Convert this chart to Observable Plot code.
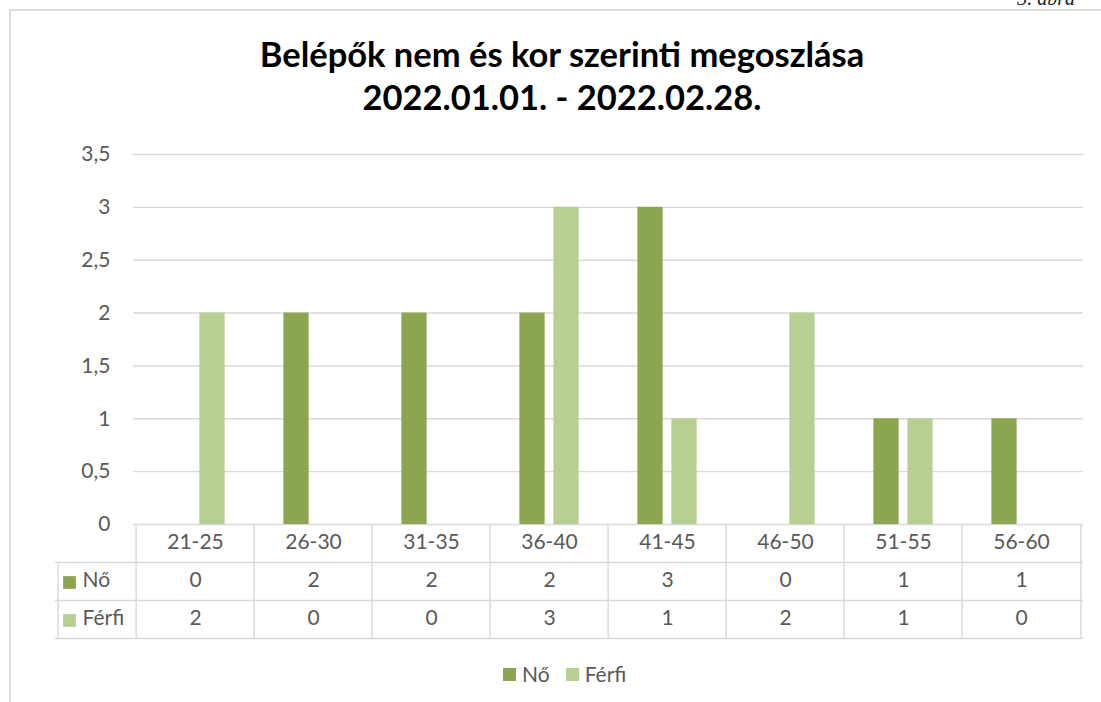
<!DOCTYPE html>
<html>
<head>
<meta charset="utf-8">
<script src="https://cdn.jsdelivr.net/npm/d3@7"></script>
<script src="https://cdn.jsdelivr.net/npm/@observablehq/plot@0.6"></script>
<style>
  html, body { margin: 0; padding: 0; background: #fff; }
  #wrap { position: relative; width: 1101px; height: 702px; overflow: hidden; font-family: Lato, "Open Sans", sans-serif; }
  #frame { position: absolute; left: 9px; top: 9px; right: -5px; bottom: -5px; border-left: 2px solid #dcdcdc; border-top: 2px solid #dcdcdc; }
  #corner { position: absolute; right: 26px; top: -12px; font: italic 20px "Liberation Serif", serif; color: #222; line-height: 20px; }
  #title { position: absolute; left: 0; top: 32px; width: 1124px; text-align: center; font-weight: 700; font-size: 34.5px; line-height: 43px; color: #000; }
  #chart { position: absolute; left: 0; top: 130px; }
  #legend { position: absolute; left: 503px; top: 662px; font-size: 21px; color: #595959; display: flex; align-items: center; gap: 0; line-height: 24px; }
  #legend .sw { display: inline-block; width: 13px; height: 13px; margin-right: 6px; }
  #legend .item { display: flex; align-items: center; margin-right: 16px; }
</style>
</head>
<body>
<div id="wrap">
  <div id="frame"></div>
  <div id="corner">3. ábra</div>
  <div id="title">Belépők nem és kor szerinti megoszlása<br>2022.01.01. - 2022.02.28.</div>
  <div id="chart"></div>
  <div id="legend"></div>
</div>
<script>
// ---- data ----
const categories = ["21-25", "26-30", "31-35", "36-40", "41-45", "46-50", "51-55", "56-60"];
const seriesNames = ["Nő", "Férfi"];
const noValues = [0, 2, 2, 2, 3, 0, 1, 1];
const ferfiValues = [2, 0, 0, 3, 1, 2, 1, 0];
const yTickValues = [0, 0.5, 1, 1.5, 2, 2.5, 3, 3.5];
const seriesColors = ["#8BA64E", "#B8CF94"];

// ---- table built from the arrays ----
const rows = categories.flatMap((c, i) => [
  {cat: c, series: seriesNames[0], value: noValues[i]},
  {cat: c, series: seriesNames[1], value: ferfiValues[i]}
]);
const noRows = rows.filter(d => d.series === seriesNames[0]);
const ferfiRows = rows.filter(d => d.series === seriesNames[1]);

// ---- layout ----
const W = 1101, H = 572;
const mL = 133, mR = 18, mT = 24, mB = 178;
const bw = (W - mL - mR) / categories.length;
const barW = 26, gap = 8;
const outer = (bw - 2 * barW - gap) / 2;
const rowH = 38;            // table row height
const headW = 78;           // width of table's left header column
const tShift = 5;           // vertical text nudge inside table cells
const grid = "#d9d9d9";
const txt = "#595959";

const plot = Plot.plot({
  width: W,
  height: H,
  marginLeft: mL,
  marginRight: mR,
  marginTop: mT,
  marginBottom: mB,
  style: {fontFamily: "Lato, 'Open Sans', sans-serif", fontSize: "21px", color: txt, background: "transparent", overflow: "visible"},
  x: {domain: categories, padding: 0, axis: null},
  y: {
    domain: [0, 3.5],
    ticks: yTickValues,
    tickFormat: d => String(d).replace(".", ","),
    tickSize: 0,
    tickPadding: 23,
    label: null
  },
  marks: [
    // gridlines
    Plot.ruleY(yTickValues, {stroke: grid, strokeWidth: 1.4}),
    // bars
    Plot.barY(noRows, {x: "cat", y: "value", fill: seriesColors[0], insetLeft: outer, insetRight: bw - outer - barW}),
    Plot.barY(ferfiRows, {x: "cat", y: "value", fill: seriesColors[1], insetLeft: outer + barW + gap, insetRight: outer}),
    // data table: horizontal lines
    Plot.ruleY([0], {stroke: grid, strokeWidth: 1.4, dy: rowH, insetLeft: -headW}),
    Plot.ruleY([0], {stroke: grid, strokeWidth: 1.4, dy: 2 * rowH, insetLeft: -headW}),
    Plot.ruleY([0], {stroke: grid, strokeWidth: 1.4, dy: 3 * rowH, insetLeft: -headW}),
    // data table: vertical lines
    Plot.ruleX(categories, {x: d => d, y1: 0, y2: 0, insetBottom: -3 * rowH, dx: -bw / 2, stroke: grid, strokeWidth: 1.4}),
    Plot.ruleX([categories[categories.length - 1]], {x: d => d, y1: 0, y2: 0, insetBottom: -3 * rowH, dx: bw / 2, stroke: grid, strokeWidth: 1.4}),
    Plot.ruleX([categories[0]], {x: d => d, y1: 0, y2: 0, insetTop: rowH, insetBottom: -3 * rowH, dx: -bw / 2 - headW, stroke: grid, strokeWidth: 1.4}),
    // data table: category labels
    Plot.text(categories, {x: d => d, text: d => d, frameAnchor: "bottom", dy: rowH / 2 + tShift, fill: txt}),
    // data table: values
    Plot.text(noRows, {x: "cat", text: d => String(d.value), frameAnchor: "bottom", dy: rowH * 1.5 + tShift, fill: txt}),
    Plot.text(ferfiRows, {x: "cat", text: d => String(d.value), frameAnchor: "bottom", dy: rowH * 2.5 + tShift, fill: txt}),
    // data table: row headers
    Plot.dot([seriesNames[0]], {frameAnchor: "bottom-left", dx: -64, dy: rowH * 1.5 + 1, symbol: "square", r: 7.2, fill: seriesColors[0], stroke: "none"}),
    Plot.dot([seriesNames[1]], {frameAnchor: "bottom-left", dx: -64, dy: rowH * 2.5 + 1, symbol: "square", r: 7.2, fill: seriesColors[1], stroke: "none"}),
    Plot.text([seriesNames[0]], {frameAnchor: "bottom-left", text: d => d, textAnchor: "start", dx: -51, dy: rowH * 1.5 + tShift, fill: txt}),
    Plot.text([seriesNames[1]], {frameAnchor: "bottom-left", text: d => d, textAnchor: "start", dx: -51, dy: rowH * 2.5 + tShift, fill: txt})
  ]
});
document.getElementById("chart").appendChild(plot);

// legend
const legend = document.getElementById("legend");
seriesNames.forEach((s, i) => {
  const item = document.createElement("span");
  item.className = "item";
  const sw = document.createElement("span");
  sw.className = "sw";
  sw.style.background = seriesColors[i];
  item.appendChild(sw);
  item.appendChild(document.createTextNode(s));
  legend.appendChild(item);
});
</script>
</body>
</html>
